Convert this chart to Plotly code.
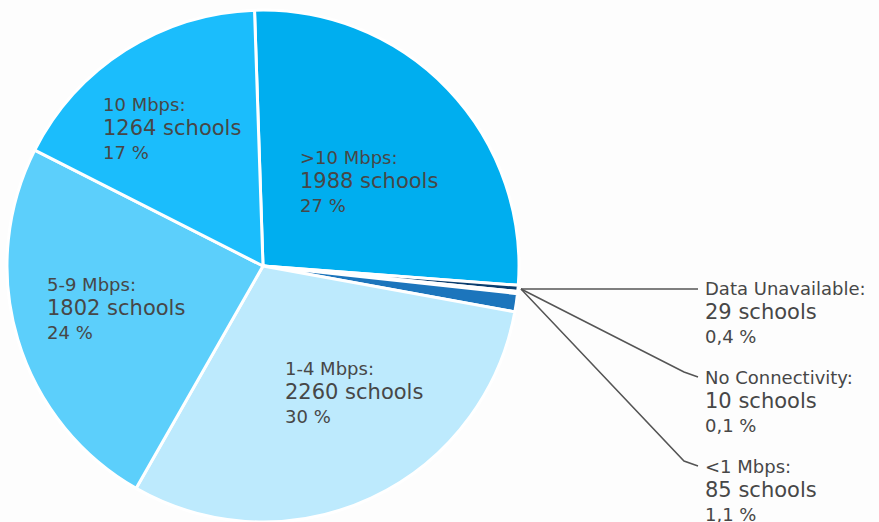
import plotly.graph_objects as go

categories = [">10 Mbps", "Data Unavailable", "No Connectivity", "<1 Mbps", "1-4 Mbps", "5-9 Mbps", "10 Mbps"]
schools = [1988, 29, 10, 85, 2260, 1802, 1264]
pct_labels = ["27 %", "0,4 %", "0,1 %", "1,1 %", "30 %", "24 %", "17 %"]
colors = ["#00AEEF", "#0B3D6E", "#2A5F9E", "#1C75BC", "#BDEAFD", "#5CCFFB", "#1BBDFC"]

W, H = 879, 522
# label anchor pixel positions (left x, first-line center y)
label_pos = {
    ">10 Mbps": (300, 157),
    "Data Unavailable": (705, 288),
    "No Connectivity": (705, 377),
    "<1 Mbps": (705, 466),
    "1-4 Mbps": (285, 368),
    "5-9 Mbps": (47, 284),
    "10 Mbps": (103, 104),
}

fig = go.Figure(go.Pie(
    labels=categories, values=schools, sort=False, direction="clockwise",
    rotation=-1.9, marker=dict(colors=colors, line=dict(color="white", width=3)),
    textinfo="none", hoverinfo="label+value+percent", showlegend=False,
    domain=dict(x=[5 / W, 521 / W], y=[0, 1 - 10 / H]),
))

def px(x):
    return x / W

def py(y):
    return 1 - y / H

txt = "#474747"
font_family = "DejaVu Sans, sans-serif"
annotations = []
for cat, n, p in zip(categories, schools, pct_labels):
    x0, y0 = label_pos[cat]
    lines = [(cat + ":", 18, 0), (f"{n} schools", 21, 24), (p, 18, 48)]
    for t, size, dy in lines:
        annotations.append(dict(
            x=px(x0 - 2), y=py(y0 + dy), xref="paper", yref="paper", text=t,
            showarrow=False, xanchor="left", yanchor="middle",
            font=dict(size=size, color=txt, family=font_family),
        ))

anchor = (521, 289)
paths = [
    [(anchor[0], anchor[1]), (698, 289)],
    [(anchor[0], anchor[1]), (684, 372), (698, 377)],
    [(anchor[0], anchor[1]), (684, 461), (698, 466)],
]
shapes = []
for pts in paths:
    d = "M " + " L ".join(f"{px(x)},{py(y)}" for x, y in pts)
    shapes.append(dict(type="path", path=d, xref="paper", yref="paper",
                       line=dict(color="#555555", width=1.5)))

fig.update_layout(
    width=W, height=H, margin=dict(l=0, r=0, t=0, b=0),
    paper_bgcolor="#FDFDFD", plot_bgcolor="#FDFDFD",
    annotations=annotations, shapes=shapes,
)
fig.write_html("out.html")
